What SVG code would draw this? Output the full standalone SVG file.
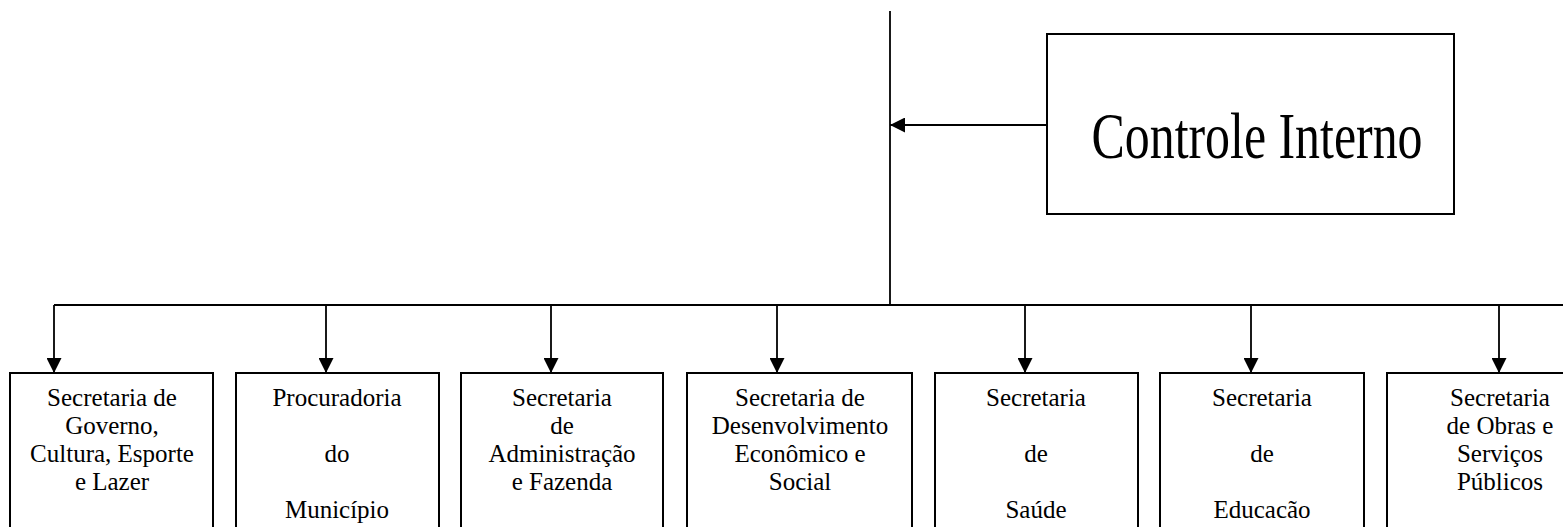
<svg xmlns="http://www.w3.org/2000/svg" width="1563" height="527" viewBox="0 0 1563 527">
<style>
.box{fill:#fff;stroke:#000;stroke-width:2}
.ln{fill:none;stroke:#000;stroke-width:1.8}
.t{font-family:"Liberation Serif","Times New Roman",serif;font-size:25px;fill:#000;text-anchor:middle}
.big{font-family:"Liberation Serif","Times New Roman",serif;font-size:65px;fill:#000;text-anchor:middle}
</style>
<defs>
<marker id="ah" markerWidth="15" markerHeight="15" refX="15" refY="7.5" orient="auto" markerUnits="userSpaceOnUse">
<path d="M0,0 L15,7.5 L0,15 Z" fill="#000"/>
</marker>
</defs>
<rect width="1563" height="527" fill="#fff"/>
<g id="connectors">
<line class="ln" x1="890" y1="11" x2="890" y2="305"/>
<line class="ln" x1="1047" y1="125" x2="890" y2="125" marker-end="url(#ah)"/>
<line class="ln" x1="54" y1="305" x2="1563" y2="305"/>
<line class="ln" x1="54" y1="305" x2="54" y2="373" marker-end="url(#ah)"/>
<line class="ln" x1="326" y1="305" x2="326" y2="373" marker-end="url(#ah)"/>
<line class="ln" x1="551" y1="305" x2="551" y2="373" marker-end="url(#ah)"/>
<line class="ln" x1="777" y1="305" x2="777" y2="373" marker-end="url(#ah)"/>
<line class="ln" x1="1025" y1="305" x2="1025" y2="373" marker-end="url(#ah)"/>
<line class="ln" x1="1251" y1="305" x2="1251" y2="373" marker-end="url(#ah)"/>
<line class="ln" x1="1499" y1="305" x2="1499" y2="373" marker-end="url(#ah)"/>
</g>
<g id="controle">
<rect class="box" x="1047" y="34" width="407" height="180"/>
<text class="big" x="1257" y="158" textLength="331" lengthAdjust="spacingAndGlyphs">Controle Interno</text>
</g>
<g id="governo">
<rect class="box" x="10" y="373" width="203" height="200"/>
<text class="t" x="112" y="406">Secretaria de</text>
<text class="t" x="112" y="434">Governo,</text>
<text class="t" x="112" y="462">Cultura, Esporte</text>
<text class="t" x="112" y="490">e Lazer</text>
</g>
<g id="procuradoria">
<rect class="box" x="236" y="373" width="203" height="200"/>
<text class="t" x="337" y="406">Procuradoria</text>
<text class="t" x="337" y="462">do</text>
<text class="t" x="337" y="518">Município</text>
</g>
<g id="administracao">
<rect class="box" x="461" y="373" width="202" height="200"/>
<text class="t" x="562" y="406">Secretaria</text>
<text class="t" x="562" y="434">de</text>
<text class="t" x="562" y="462">Administração</text>
<text class="t" x="562" y="490">e Fazenda</text>
</g>
<g id="desenvolvimento">
<rect class="box" x="687" y="373" width="225" height="200"/>
<text class="t" x="800" y="406">Secretaria de</text>
<text class="t" x="800" y="434">Desenvolvimento</text>
<text class="t" x="800" y="462">Econômico e</text>
<text class="t" x="800" y="490">Social</text>
</g>
<g id="saude">
<rect class="box" x="935" y="373" width="203" height="200"/>
<text class="t" x="1036" y="406">Secretaria</text>
<text class="t" x="1036" y="462">de</text>
<text class="t" x="1036" y="518">Saúde</text>
</g>
<g id="educacao">
<rect class="box" x="1160" y="373" width="204" height="200"/>
<text class="t" x="1262" y="406">Secretaria</text>
<text class="t" x="1262" y="462">de</text>
<text class="t" x="1262" y="518">Educacão</text>
</g>
<g id="obras">
<rect class="box" x="1387" y="373" width="205" height="200"/>
<text class="t" x="1500" y="406">Secretaria</text>
<text class="t" x="1500" y="434">de Obras e</text>
<text class="t" x="1500" y="462">Serviços</text>
<text class="t" x="1500" y="490">Públicos</text>
</g>
</svg>
